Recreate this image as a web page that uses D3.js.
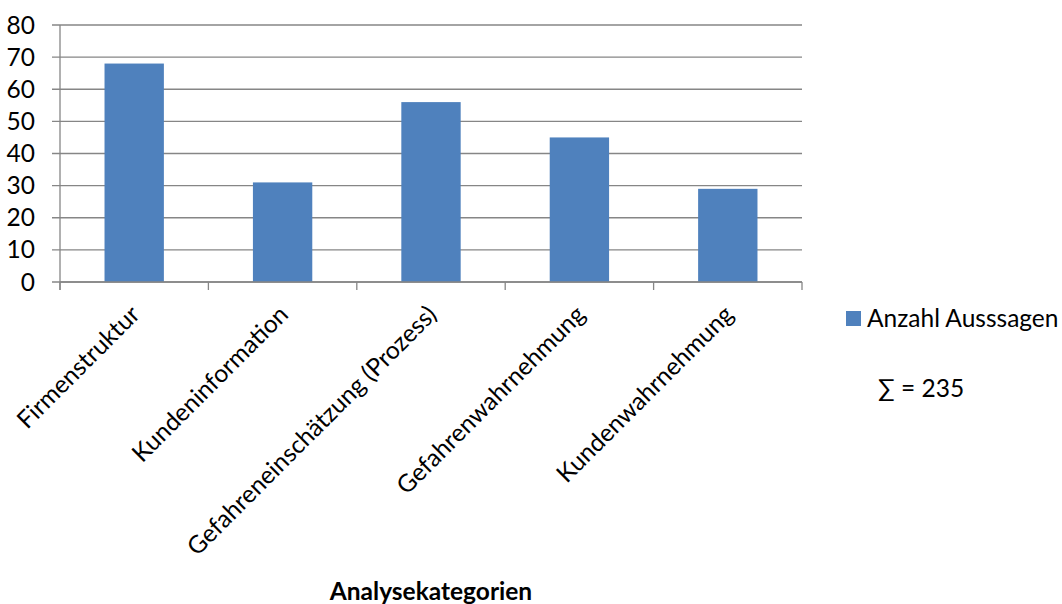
<!DOCTYPE html>
<html><head><meta charset="utf-8">
<script src="https://cdn.jsdelivr.net/npm/d3@7"></script>
<style>body{margin:0;background:#fff}svg{display:block}text{font-family:Lato,"Open Sans",sans-serif;fill:#000}</style>
</head><body><svg id="c" width="1062" height="604"></svg>
<script>
const categories = ["Firmenstruktur","Kundeninformation","Gefahreneinschätzung (Prozess)","Gefahrenwahrnehmung","Kundenwahrnehmung"];
const values = [68, 31, 56, 45, 29];
const yTicks = [0,10,20,30,40,50,60,70,80];
const seriesName = "Anzahl Ausssagen";
const sumLabel = "∑ = 235";
const axisTitle = "Analysekategorien";

const svg = d3.select("#c");
const fs = 24.5;
const L = 60, R = 802, T = 25, B = 282;
const x = d3.scaleBand().domain(categories).range([L, R]).paddingInner(0.6).paddingOuter(0.3);
const xb = d3.scaleBand().domain(categories).range([L, R]);
const y = d3.scaleLinear().domain([0, 80]).range([B, T]);
const grid = "#868686";

// gridlines
svg.append("g").selectAll("line").data(yTicks).join("line")
  .attr("x1", L - 8).attr("x2", R).attr("y1", d => y(d)).attr("y2", d => y(d))
  .attr("stroke", grid).attr("stroke-width", 1.3);
// y axis line
svg.append("line").attr("x1", L).attr("x2", L).attr("y1", T).attr("y2", B + 8).attr("stroke", grid).attr("stroke-width", 1.3);
// y labels
svg.append("g").selectAll("text").data(yTicks).join("text")
  .attr("x", 35).attr("y", d => y(d)).attr("dy", "0.35em").attr("text-anchor", "end")
  .style("font-size", fs + "px").text(d => d);
// bars
svg.append("g").selectAll("rect").data(values).join("rect")
  .attr("x", (d, i) => x(categories[i])).attr("width", x.bandwidth())
  .attr("y", d => y(d)).attr("height", d => B - y(d)).attr("fill", "#4F81BD");
// x ticks
const bounds = categories.map(c => xb(c)).concat([R]);
svg.append("g").selectAll("line").data(bounds).join("line")
  .attr("x1", d => d).attr("x2", d => d).attr("y1", B).attr("y2", B + 8)
  .attr("stroke", grid).attr("stroke-width", 1.3);
svg.append("line").attr("x1", L).attr("x2", R).attr("y1", B).attr("y2", B).attr("stroke", grid).attr("stroke-width", 1.3);
// x labels
svg.append("g").selectAll("text").data(categories).join("text")
  .attr("transform", d => `translate(${xb(d) + xb.bandwidth() / 2 + 1},${B + 28}) rotate(-45)`)
  .attr("text-anchor", "end").attr("dy", "0.35em")
  .style("font-size", fs + "px").text(d => d);
// axis title
svg.append("text").attr("x", 431).attr("y", 600).attr("text-anchor", "middle")
  .style("font-size", fs + "px").style("font-weight", "bold").text(axisTitle);
// legend
svg.append("rect").attr("x", 846).attr("y", 311).attr("width", 15).attr("height", 15).attr("fill", "#4F81BD");
svg.append("text").attr("x", 867).attr("y", 318).attr("dy", "0.35em").style("font-size", fs + "px").text(seriesName);
svg.append("text").attr("x", 878).attr("y", 388).attr("dy", "0.35em").style("font-size", fs + "px").text(sumLabel);
</script></body></html>
